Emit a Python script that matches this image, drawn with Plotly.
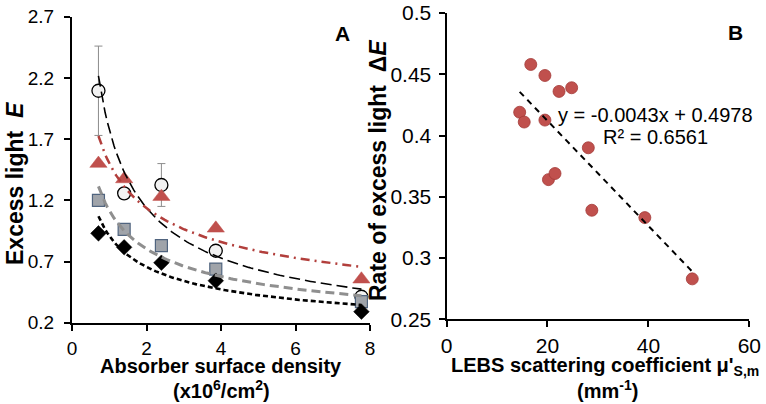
import numpy as np
import plotly.graph_objects as go

# ---------------- Panel A data ----------------
density = [0.71, 1.40, 2.40, 3.86, 7.77]          # x10^6 / cm^2
circle_E = [2.095, 1.257, 1.325, 0.788, 0.412]
circle_err = [0.365, 0.0, 0.175, 0.0, 0.0]
triangle_E = [1.50, 1.374, 1.23, 0.971, 0.555]
square_E = [1.20, 0.962, 0.829, 0.638, 0.372]
diamond_E = [0.93, 0.816, 0.69, 0.543, 0.29]

# ---------------- Panel B data ----------------
mu_s = [16.7, 19.5, 22.3, 24.8, 14.5, 15.4, 19.5, 28.1, 20.2, 21.5, 28.8, 39.3, 48.7]
rate_dE = [0.458, 0.449, 0.436, 0.439, 0.419, 0.411, 0.4126, 0.390, 0.364, 0.369, 0.339, 0.333, 0.283]
fit_text = ["y = -0.0043x + 0.4978", "R² = 0.6561"]

W, H = 766, 404
FONT = "Liberation Sans, Arial, sans-serif"


def px(x):
    return x / W


def py(y):
    return 1 - y / H


def power_fit(x, y):
    b, lna = np.polyfit(np.log(x), np.log(y), 1)
    xs = np.linspace(min(x), max(x), 120)
    return xs, np.exp(lna) * xs ** b


fig = go.Figure()

RED = "#C0504D"

# markers panel A
fig.add_trace(go.Scatter(x=density, y=circle_E, mode="markers",
                         marker=dict(symbol="circle", size=13, color="#F2F2F2",
                                     line=dict(color="black", width=1.3)),
                         error_y=dict(type="data", array=circle_err, visible=True,
                                      color="#8C8C8C", thickness=1, width=4),
                         xaxis="x", yaxis="y", showlegend=False))
fig.add_trace(go.Scatter(x=density, y=triangle_E, mode="markers",
                         marker=dict(symbol="triangle-up", size=15, color=RED,
                                     line=dict(color=RED, width=0.5)),
                         xaxis="x", yaxis="y", showlegend=False))
fig.add_trace(go.Scatter(x=density, y=square_E, mode="markers",
                         marker=dict(symbol="square", size=12, color="#A0A4AA",
                                     line=dict(color="#50647F", width=1.2)),
                         xaxis="x", yaxis="y", showlegend=False))
fig.add_trace(go.Scatter(x=density, y=diamond_E, mode="markers",
                         marker=dict(symbol="diamond", size=12, color="black",
                                     line=dict(color="black", width=0.5)),
                         xaxis="x", yaxis="y", showlegend=False))

# trendlines panel A (power fits of the data)
styles = [
    (circle_E, "black", 1.6, "11px,5px"),
    (triangle_E, "#B23F3C", 2.5, "9px,5px,2px,5px"),
    (square_E, "#8F8F8F", 3, "9px,5px"),
    (diamond_E, "black", 2.6, "5px,3px"),
]
for ys, col, wdt, dash in styles:
    xs, yf = power_fit(density, ys)
    fig.add_trace(go.Scatter(x=xs, y=yf, mode="lines",
                             line=dict(color=col, width=wdt, dash=dash),
                             xaxis="x", yaxis="y", showlegend=False, hoverinfo="skip"))

# panel B
fig.add_trace(go.Scatter(x=mu_s, y=rate_dE, mode="markers",
                         marker=dict(symbol="circle", size=12, color=RED,
                                     line=dict(color="#A33A37", width=0.8)),
                         xaxis="x2", yaxis="y2", showlegend=False))
slope, icpt = np.polyfit(mu_s, rate_dE, 1)
lx = np.array([min(mu_s), max(mu_s)])
fig.add_trace(go.Scatter(x=lx, y=slope * lx + icpt, mode="lines",
                         line=dict(color="black", width=2, dash="6px,5px"),
                         xaxis="x2", yaxis="y2", showlegend=False, hoverinfo="skip"))

axis_common = dict(showline=True, linecolor="black", linewidth=2, ticks="outside",
                   ticklen=6, tickwidth=1.5, tickcolor="black", showgrid=False,
                   zeroline=False, mirror=False, automargin=False)
fA = dict(family=FONT, size=19, color="black")
fB = dict(family=FONT, size=21, color="black")

fig.update_layout(
    template="none",
    width=W, height=H, margin=dict(l=0, r=0, t=0, b=0, autoexpand=False),
    paper_bgcolor="white", plot_bgcolor="white",
    xaxis=dict(domain=[px(72), px(370)], range=[0, 8], dtick=2, tick0=0, anchor="y",
               ticklabelstandoff=1, tickfont=fA, **axis_common),
    yaxis=dict(domain=[py(322.7), py(16.7)], range=[0.2, 2.7], dtick=0.5, tick0=0.2,
               anchor="x", ticklabelstandoff=6, tickfont=fA, **axis_common),
    xaxis2=dict(domain=[px(446.5), px(749.3)], range=[0, 60], dtick=20, tick0=0, anchor="y2",
                ticklabelstandoff=0, tickfont=fB, **axis_common),
    yaxis2=dict(domain=[py(319.3), py(13)], range=[0.25, 0.5], dtick=0.05, tick0=0.25,
                anchor="x2", ticklabelstandoff=3, tickfont=fB, **axis_common),
)

ann = []
bold = dict(family=FONT, size=20, color="black")
ybold = dict(family=FONT, size=23, color="black")
ann.append(dict(text="<b>Excess light\u00a0 <i>E</i></b>", x=px(15), y=py(184), textangle=-90,
                font=ybold))
ann.append(dict(text="<b>Absorber surface density</b>", x=px(221), y=py(366), font=bold))
ann.append(dict(text="<b>(x10<sup>6</sup>/cm<sup>2</sup>)</b>", x=px(221), y=py(389), font=bold))
ann.append(dict(text="<b>Rate of excess light\u00a0 Δ<i>E</i></b>", x=px(378), y=py(171),
                textangle=-90, font=ybold))
ann.append(dict(text="<b>LEBS scattering coefficient μ'<sub>S,m</sub></b>", x=px(605), y=py(366),
                font=bold))
ann.append(dict(text="<b>(mm<sup>-1</sup>)</b>", x=px(607), y=py(389), font=bold))
ann.append(dict(text="<b>A</b>", x=px(342), y=py(34), font=dict(family=FONT, size=21, color="black")))
ann.append(dict(text="<b>B</b>", x=px(735), y=py(33), font=dict(family=FONT, size=21, color="black")))
ann.append(dict(text=fit_text[0], x=px(655), y=py(115), font=dict(family=FONT, size=20, color="black")))
ann.append(dict(text=fit_text[1], x=px(655), y=py(137), font=dict(family=FONT, size=20, color="black")))
for a in ann:
    a.update(xref="paper", yref="paper", showarrow=False, xanchor="center", yanchor="middle")
fig.update_layout(annotations=ann)

fig.write_html("out.html", config={"displayModeBar": False},
               post_script="document.body.style.margin='0';document.body.style.padding='0';"
                           "document.body.style.overflow='hidden';")
